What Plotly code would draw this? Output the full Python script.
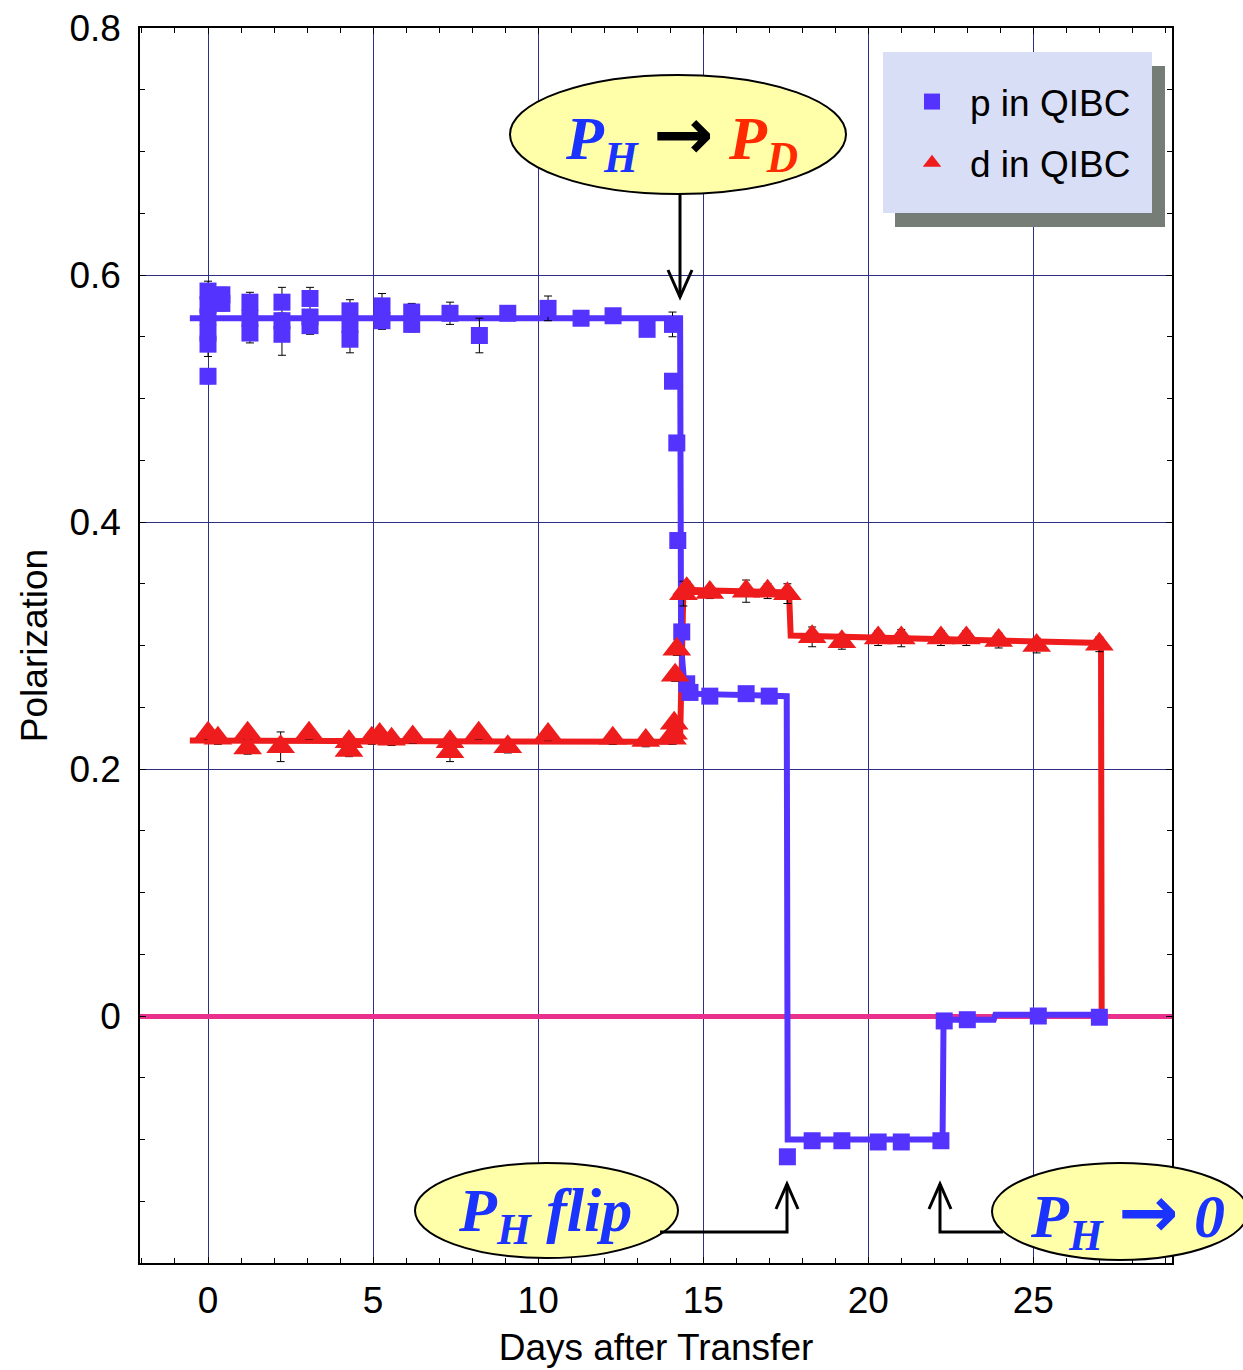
import plotly.graph_objects as go

# ---------------- data ----------------
p_days = [0.0, 0.0, 0.0, 0.0, 0.0, 0.0, 0.42, 0.42, 1.27, 1.27, 1.27,
          2.24, 2.24, 2.24, 3.09, 3.09, 3.09, 4.3, 4.3, 4.3, 5.27, 5.27,
          6.17, 6.17, 7.33, 8.22, 9.08, 10.3, 11.3, 12.27, 13.3, 14.07, 14.07,
          14.2, 14.23, 14.35, 14.5, 14.6, 15.2, 16.3, 17.0, 17.55, 18.3,
          19.2, 20.3, 21.0, 22.2, 22.3, 23.0, 25.15, 27.0]
p_vals = [0.587, 0.576, 0.566, 0.553, 0.544, 0.518, 0.584, 0.577, 0.578, 0.565, 0.553,
          0.578, 0.563, 0.552, 0.581, 0.566, 0.559, 0.571, 0.560, 0.548, 0.575, 0.563,
          0.570, 0.560, 0.569, 0.551, 0.569, 0.573, 0.565, 0.567, 0.556, 0.560, 0.514,
          0.464, 0.385, 0.311, 0.269, 0.262, 0.259, 0.261, 0.259, -0.114, -0.101,
          -0.101, -0.102, -0.102, -0.101, -0.004, -0.003, 0.000, -0.001]
p_err = [0.008, 0.006, 0.006, 0.006, 0.010, 0.006, 0.006, 0.006, 0.008, 0.006, 0.008,
         0.012, 0.006, 0.017, 0.009, 0.006, 0.007, 0.009, 0.006, 0.011, 0.010, 0.007,
         0.007, 0.006, 0.009, 0.014, 0.004, 0.010, 0.004, 0.005, 0.004, 0.010, 0.004,
         0.004, 0.004, 0.004, 0.004, 0.004, 0.004, 0.004, 0.004, 0.004, 0.004,
         0.004, 0.004, 0.004, 0.004, 0.004, 0.004, 0.004, 0.004]

d_days = [0.0, 0.3, 1.2, 1.2, 2.2, 3.06, 4.27, 4.27, 4.96, 5.2, 5.56, 6.2,
          7.33, 7.33, 8.2, 9.08, 10.3, 12.26, 13.26, 14.07, 14.1, 14.12, 14.15,
          14.2, 14.4, 14.5, 15.2, 16.3, 16.95, 17.55, 18.3, 19.2, 20.3, 21.0,
          22.2, 22.97, 23.95, 25.1, 27.0]
d_vals = [0.229, 0.225, 0.229, 0.217, 0.218, 0.229, 0.222, 0.215, 0.225, 0.228, 0.224, 0.226,
          0.222, 0.214, 0.229, 0.218, 0.228, 0.225, 0.223, 0.225, 0.229, 0.237, 0.276,
          0.297, 0.342, 0.346, 0.343, 0.344, 0.344, 0.342, 0.307, 0.303, 0.306, 0.306,
          0.306, 0.306, 0.304, 0.300, 0.301]
d_err = [0.005, 0.005, 0.005, 0.005, 0.012, 0.005, 0.005, 0.005, 0.005, 0.005, 0.005, 0.005,
         0.005, 0.008, 0.005, 0.005, 0.005, 0.005, 0.005, 0.005, 0.005, 0.005, 0.005,
         0.005, 0.010, 0.006, 0.005, 0.009, 0.006, 0.008, 0.008, 0.006, 0.006, 0.007,
         0.006, 0.006, 0.006, 0.006, 0.006]

p_fit_days = [-0.55, 14.3, 14.33, 14.45, 17.53, 17.56, 22.25, 22.28, 23.8, 23.85, 27.0]
p_fit_vals = [0.565, 0.565, 0.300, 0.261, 0.259, -0.100, -0.100, -0.003, -0.003, 0.001, 0.001]

d_fit_days = [-0.55, 14.0, 14.3, 14.4, 17.6, 17.65, 27.05, 27.07]
d_fit_vals = [0.223, 0.222, 0.224, 0.345, 0.343, 0.308, 0.302, 0.0]

x_ticks = [0, 5, 10, 15, 20, 25]
y_ticks = [0, 0.2, 0.4, 0.6, 0.8]

BLUE = "#5533FF"
RED = "#EE1C1C"
GRID = "#2E2E84"
FONT = "Liberation Sans, Arial, sans-serif"
SERIF = "Liberation Serif, Times New Roman, serif"

# ---------------- layout geometry (pixels) ----------------
W, H = 1243, 1370
L, R, T, B = 140, 1172, 28, 1263


def fx(px):
    return (px - L) / (R - L)


def fy(py):
    return (B - py) / (B - T)


fig = go.Figure()

fig.add_trace(go.Scatter(x=d_fit_days, y=d_fit_vals, mode="lines",
                         line=dict(color=RED, width=6), showlegend=False, hoverinfo="skip"))
fig.add_trace(go.Scatter(x=p_fit_days, y=p_fit_vals, mode="lines",
                         line=dict(color=BLUE, width=6), showlegend=False, hoverinfo="skip"))

fig.add_trace(go.Scatter(
    x=p_days, y=p_vals, mode="markers", name="p in QIBC", legendgroup="p",
    marker=dict(symbol="square", size=17, color=BLUE),
    error_y=dict(type="data", array=p_err, color="black", thickness=1, width=4)))
fig.add_trace(go.Scatter(
    x=d_days, y=d_vals, mode="markers", name="d in QIBC", legendgroup="d",
    marker=dict(symbol="triangle-up", size=25, color=RED),
    error_y=dict(type="data", array=d_err, color="black", thickness=1, width=4)))

shapes = []
# legend shadow + box
shapes.append(dict(type="rect", xref="paper", yref="paper", layer="above",
                   x0=fx(895), x1=fx(1165), y0=fy(227), y1=fy(66),
                   fillcolor="#767C76", line=dict(width=0)))
shapes.append(dict(type="rect", xref="paper", yref="paper", layer="above",
                   x0=fx(883), x1=fx(1152), y0=fy(213), y1=fy(52),
                   fillcolor="#D9DEF7", line=dict(width=0)))

# callout ellipses
ELL_FILL = "#FFFFAA"
for (x0, x1, y0, y1) in [(510, 846, 75, 194), (415, 678, 1163, 1258), (992, 1248, 1163, 1260)]:
    shapes.append(dict(type="circle", xref="paper", yref="paper", layer="above",
                       x0=fx(x0), x1=fx(x1), y0=fy(y1), y1=fy(y0),
                       fillcolor=ELL_FILL, line=dict(color="black", width=2)))


def path(points):
    return "M " + " L ".join(f"{fx(a):.5f},{fy(b):.5f}" for a, b in points)


# connectors with open arrow heads
connectors = [
    [(680, 194), (680, 297)],
    [(668, 270), (680, 297), (692, 270)],
    [(660, 1232), (787, 1232), (787, 1184)],
    [(776, 1209), (787, 1184), (798, 1209)],
    [(1003, 1232), (940, 1232), (940, 1184)],
    [(929, 1209), (940, 1184), (951, 1209)],
]
for pts in connectors:
    shapes.append(dict(type="path", xref="paper", yref="paper", layer="above",
                       path=path(pts), line=dict(color="black", width=3)))

TXT_BLUE = "#1A33FF"
TXT_RED = "#FF2A00"
annotations = [
    dict(x=fx(681), y=fy(137), xref="paper", yref="paper", showarrow=False,
         xanchor="center", yanchor="middle",
         text=("<b><i>P<sub>H</sub></i></b> "
               "<span style='color:black;font-family:DejaVu Sans;font-weight:bold;font-size:72px'>→</span> "
               f"<span style='color:{TXT_RED}'><b><i>P<sub>D</sub></i></b></span>"),
         font=dict(family=SERIF, size=62, color=TXT_BLUE)),
    dict(x=fx(545), y=fy(1214), xref="paper", yref="paper", showarrow=False,
         xanchor="center", yanchor="middle",
         text="<b><i>P<sub>H</sub> flip</i></b>",
         font=dict(family=SERIF, size=62, color=TXT_BLUE)),
    dict(x=fx(1127), y=fy(1214), xref="paper", yref="paper", showarrow=False,
         xanchor="center", yanchor="middle",
         text=("<b><i>P<sub>H</sub></i></b> "
               "<span style='font-family:DejaVu Sans;font-weight:bold;font-size:72px'>→</span> "
               "<b><i>0</i></b>"),
         font=dict(family=SERIF, size=62, color=TXT_BLUE)),
]

fig.update_layout(
    width=W, height=H,
    margin=dict(l=L, r=W - R, t=T, b=H - B, pad=0, autoexpand=False),
    paper_bgcolor="white", plot_bgcolor="white",
    font=dict(family=FONT, size=37, color="black"),
    shapes=shapes, annotations=annotations,
    showlegend=True,
    legend=dict(x=fx(894), y=fy(71), xanchor="left", yanchor="top",
                bgcolor="rgba(0,0,0,0)", borderwidth=0,
                font=dict(family=FONT, size=37, color="black"),
                itemwidth=66, traceorder="grouped", tracegroupgap=10),
    xaxis=dict(range=[-2.06, 29.2], tickvals=x_ticks, showgrid=True, gridcolor=GRID, gridwidth=1,
               zeroline=False, showline=True, linecolor="black", linewidth=1.5, mirror="allticks",
               ticks="inside", ticklen=6, tickcolor="black", automargin=False,
               minor=dict(dtick=1, tick0=0, ticks="inside", ticklen=5, tickcolor="black", showgrid=False),
               title=dict(text="Days after Transfer", standoff=14, font=dict(size=37)),
               ticklabelstandoff=4),
    yaxis=dict(range=[-0.2, 0.8], tickvals=y_ticks, showgrid=True, gridcolor=GRID, gridwidth=1,
               zeroline=True, zerolinecolor="#E8308C", zerolinewidth=5,
               showline=True, linecolor="black", linewidth=1.5, mirror="allticks",
               ticks="inside", ticklen=6, tickcolor="black", automargin=False,
               minor=dict(dtick=0.05, tick0=0, ticks="inside", ticklen=5, tickcolor="black", showgrid=False),
               title=dict(text="Polarization", standoff=10, font=dict(size=37)),
               ticklabelstandoff=10),
)

fig.write_html("out.html")
